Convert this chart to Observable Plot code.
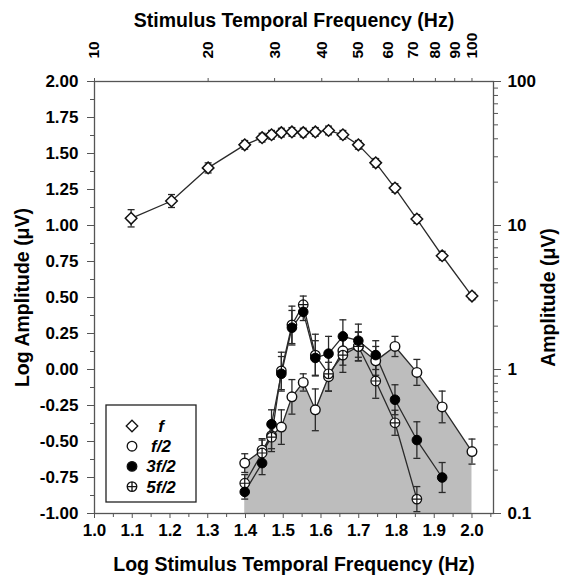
<!DOCTYPE html>
<html><head><meta charset="utf-8">
<script src="https://cdn.jsdelivr.net/npm/d3@7"></script>
<script src="https://cdn.jsdelivr.net/npm/@observablehq/plot@0.6"></script>
<style>
body{margin:0;background:#fff}
#chart svg{font-family:"Liberation Sans",Arial,sans-serif;overflow:visible}
</style>
</head><body><div id="chart"></div>
<script>
// ---- data (log10 frequency, log10 amplitude, SEM) ----
const logFreqF = [1.097,1.204,1.301,1.398,1.444,1.469,1.495,1.523,1.553,1.585,1.620,1.658,1.699,1.745,1.796,1.854,1.921,2.000];
const ampF     = [1.05,1.17,1.40,1.56,1.61,1.63,1.645,1.65,1.645,1.65,1.66,1.63,1.56,1.435,1.26,1.045,0.79,0.51];
const errF     = [0.06,0.045,0.035,0.03,0.03,0.03,0.03,0.03,0.03,0.03,0.03,0.03,0.03,0.03,0.03,0.03,0.03,0.025];

const logFreqH = [1.398,1.444,1.469,1.495,1.523,1.553,1.585,1.620,1.658,1.699,1.745,1.796,1.854,1.921,2.000];
const ampHalf  = [-0.65,-0.56,-0.46,-0.40,-0.19,-0.09,-0.28,-0.05,0.13,0.16,0.06,0.16,-0.02,-0.26,-0.57];
const errHalf  = [0.065,0.08,0.09,0.12,0.12,0.06,0.145,0.10,0.10,0.10,0.10,0.07,0.09,0.11,0.087];
const amp3Half = [-0.85,-0.65,-0.38,-0.03,0.29,0.40,0.08,0.11,0.23,0.20,0.10,-0.21,-0.49,-0.75];
const err3Half = [0.05,0.08,0.10,0.12,0.12,0.06,0.12,0.12,0.115,0.115,0.10,0.104,0.127,0.104];
const amp5Half = [-0.79,-0.58,-0.47,-0.01,0.31,0.45,0.10,-0.03,0.10,0.16,-0.08,-0.37,-0.90];
const err5Half = [0.06,0.09,0.10,0.13,0.13,0.06,0.145,0.12,0.12,0.10,0.12,0.087,0.087];

const seriesNames = ["f","f/2","3f/2","5f/2"];

// ---- ticks ----
const yTicks = [-1,-0.75,-0.5,-0.25,0,0.25,0.5,0.75,1,1.25,1.5,1.75,2];
const yMinor = [-0.875,-0.625,-0.375,-0.125,0.125,0.375,0.625,0.875,1.125,1.375,1.625,1.875];
const xTicks = [1.0,1.1,1.2,1.3,1.4,1.5,1.6,1.7,1.8,1.9,2.0];
const xMinor = [1.05,1.15,1.25,1.35,1.45,1.55,1.65,1.75,1.85,1.95,2.05];
const topTickLabels = [10,20,30,40,50,60,70,80,90,100];
const rightTickLabels = [0.1,1,10,100];
const rightMinorValues = [0.2,0.3,0.4,0.5,0.6,0.7,0.8,0.9,2,3,4,5,6,7,8,9,20,30,40,50,60,70,80,90];

const topTicks = topTickLabels.map(Math.log10);
const rightTicks = rightTickLabels.map(Math.log10);
const rightMinor = rightMinorValues.map(Math.log10);

function rows(xs, ys, es, name){ return ys.map((y,i)=>({x:xs[i], y, e:es[i], s:name})); }
const rowsF = rows(logFreqF, ampF, errF, "f");
const rowsHalf = rows(logFreqH, ampHalf, errHalf, "f/2");
const rows3 = rows(logFreqH, amp3Half, err3Half, "3f/2");
const rows5 = rows(logFreqH, amp5Half, err5Half, "5f/2");
const allRows = [...rowsHalf, ...rows3, ...rows5, ...rowsF];

const capSymbol = {draw(ctx, size){ const w = Math.sqrt(size/Math.PI); ctx.moveTo(-w,0); ctx.lineTo(w,0); }};
const crossCircle = {draw(ctx, size){ const r = Math.sqrt(size/Math.PI); ctx.moveTo(r,0); ctx.arc(0,0,r,0,2*Math.PI); ctx.moveTo(-r,0); ctx.lineTo(r,0); ctx.moveTo(0,-r); ctx.lineTo(0,r); }};

const ink = "#2a2a2a";
const font = {fontSize: 17, fontWeight: "bold"};
const titleFont = {fontSize: 19.5, fontWeight: "bold", fill: "#000", lineAnchor: "middle", textAnchor: "middle"};
const fmtTop = d => String(topTickLabels[topTicks.indexOf(d)]);
const fmtRight = d => String(rightTickLabels[rightTicks.indexOf(d)]);

const plot = Plot.plot({
  width: 568, height: 578,
  marginLeft: 94, marginRight: 75, marginTop: 81, marginBottom: 65,
  style: {fontFamily: "'Liberation Sans', Arial, sans-serif", color: "#000", background: "#fff"},
  x: {type: "linear", domain: [1.0, 2.057]},
  y: {type: "linear", domain: [-1, 2]},
  marks: [
    Plot.areaY(rowsHalf, {x: "x", y1: -1, y2: "y", fill: "#bdbdbd"}),
    Plot.frame({stroke: "#555", strokeWidth: 1.3}),
    // axes
    Plot.axisY({anchor: "left", ticks: yTicks, tickFormat: d => d.toFixed(2), tickSize: 7, tickPadding: 9, label: null, stroke: "#555", ...font}),
    Plot.axisY({anchor: "left", ticks: yMinor, tickFormat: () => "", tickSize: 4, label: null, stroke: "#555"}),
    Plot.axisX({anchor: "bottom", ticks: xTicks, tickFormat: d => d.toFixed(1), tickSize: 5, tickPadding: 5, label: null, stroke: "#555", ...font}),
    Plot.axisX({anchor: "bottom", ticks: xMinor.filter(v => v < 2.057), tickFormat: () => "", tickSize: 4, label: null, stroke: "#555"}),
    Plot.axisX({anchor: "top", ticks: topTicks, tickFormat: fmtTop, tickRotate: -90, tickSize: 4, tickPadding: 19, label: null, stroke: "#555", fontSize: 15.5, fontWeight: "bold"}),
    Plot.axisY({anchor: "right", ticks: rightTicks, tickFormat: fmtRight, tickSize: 7, tickPadding: 7, label: null, stroke: "#555", ...font}),
    Plot.axisY({anchor: "right", ticks: rightMinor, tickFormat: () => "", tickSize: 4, label: null, stroke: "#555"}),
    // titles
    Plot.text(["Log Amplitude (μV)"], {text: d => d, frameAnchor: "left", dx: -72, rotate: -90, ...titleFont}),
    Plot.text(["Log Stimulus Temporal Frequency (Hz)"], {text: d => d, frameAnchor: "bottom", dy: 51, ...titleFont}),
    Plot.text(["Stimulus Temporal Frequency (Hz)"], {text: d => d, frameAnchor: "top", dy: -61, ...titleFont}),
    Plot.text(["Amplitude (μV)"], {text: d => d, frameAnchor: "right", dx: 55, rotate: -90, ...titleFont}),
    // error bars
    Plot.ruleX(allRows, {x: "x", y1: d => d.y - d.e, y2: d => d.y + d.e, stroke: ink, strokeWidth: 1.3}),
    Plot.dot(allRows, {x: "x", y: d => d.y - d.e, symbol: capSymbol, r: 3.5, stroke: ink, strokeWidth: 1.3}),
    Plot.dot(allRows, {x: "x", y: d => d.y + d.e, symbol: capSymbol, r: 3.5, stroke: ink, strokeWidth: 1.3}),
    // lines
    Plot.line(rowsHalf, {x: "x", y: "y", stroke: ink, strokeWidth: 1.3}),
    Plot.line(rows5, {x: "x", y: "y", stroke: ink, strokeWidth: 1.3}),
    Plot.line(rows3, {x: "x", y: "y", stroke: ink, strokeWidth: 1.3}),
    Plot.line(rowsF, {x: "x", y: "y", stroke: ink, strokeWidth: 1.3}),
    // points
    Plot.dot(rowsHalf, {x: "x", y: "y", r: 4.8, symbol: "circle", fill: "#fff", stroke: "#111", strokeWidth: 1.4}),
    Plot.dot(rows5, {x: "x", y: "y", r: 4.8, symbol: crossCircle, fill: "#fff", stroke: "#111", strokeWidth: 1.2}),
    Plot.dot(rows3, {x: "x", y: "y", r: 4.8, symbol: "circle", fill: "#000", stroke: "#000", strokeWidth: 1}),
    Plot.dot(rowsF, {x: "x", y: "y", r: 5.2, symbol: "diamond2", fill: "#fff", stroke: "#111", strokeWidth: 1.5})
  ]
});
document.getElementById("chart").appendChild(plot);

// ---- legend (drawn inside the svg) ----
const svg = d3.select(plot);
const lg = svg.append("g").attr("transform", "translate(106,405)");
lg.append("rect").attr("width", 90).attr("height", 97).attr("fill", "#fff").attr("stroke", "#222").attr("stroke-width", 1.3);
const legendSymbols = [
  {type: "diamond", fill: "#fff"},
  {type: "circle", fill: "#fff"},
  {type: "circle", fill: "#000"},
  {type: "cross", fill: "#fff"}
];
seriesNames.forEach((name, i) => {
  const cy = 21 + i * 20.2, cx = 26;
  const s = legendSymbols[i];
  let path;
  if (s.type === "diamond") path = d3.symbol(d3.symbolDiamond2, Math.PI * 5.2 * 5.2)();
  else if (s.type === "circle") path = d3.symbol(d3.symbolCircle, Math.PI * 4.8 * 4.8)();
  else path = d3.symbol(crossCircle, Math.PI * 4.8 * 4.8)();
  lg.append("path").attr("d", path).attr("transform", `translate(${cx},${cy})`)
    .attr("fill", s.fill).attr("stroke", "#111").attr("stroke-width", 1.3);
  lg.append("text").attr("x", 55).attr("y", cy).attr("dy", "0.35em")
    .attr("font-size", 17).attr("font-weight", "bold").attr("font-style", "italic")
    .attr("font-family", "'Liberation Sans', Arial, sans-serif").text(name);
});
</script>
</body></html>
